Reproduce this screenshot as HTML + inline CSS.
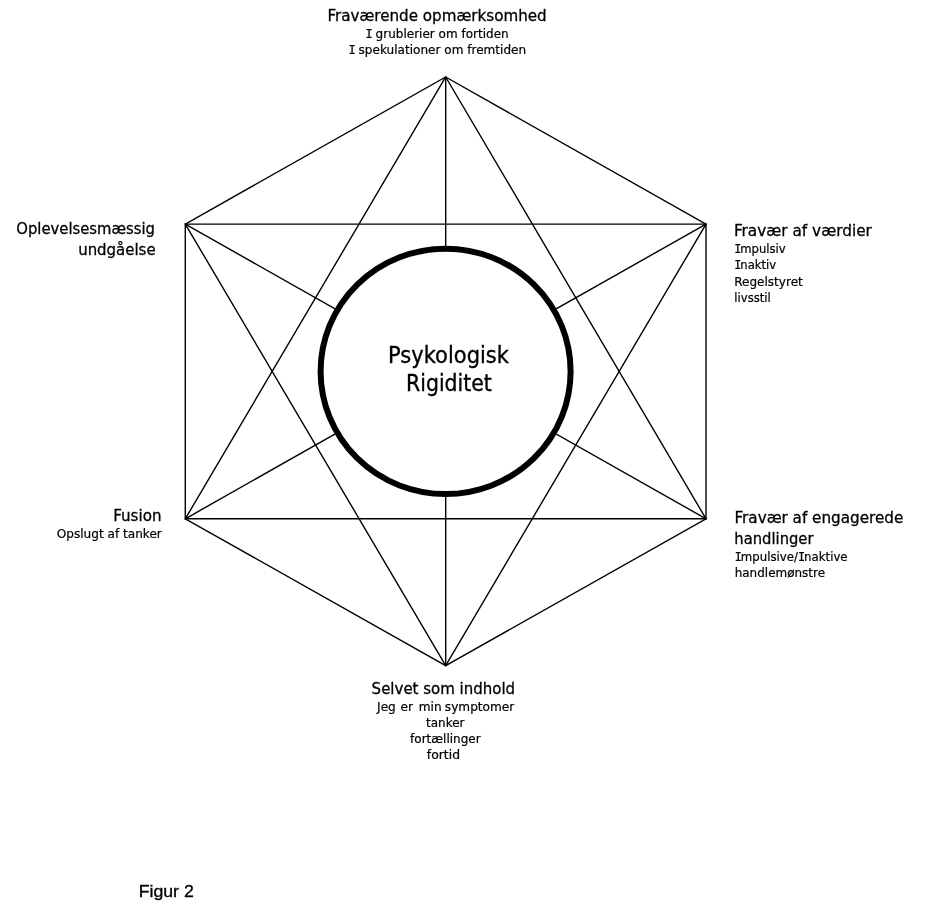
<!DOCTYPE html>
<html lang="da">
<head>
<meta charset="utf-8">
<title>Figur 2 – Psykologisk Rigiditet</title>
<style>
  html, body { margin: 0; padding: 0; background: #ffffff; }
  body { width: 942px; height: 903px; overflow: hidden; }
  svg { display: block; will-change: transform; }
  .ln { stroke: #000; stroke-width: 1.4; fill: none; stroke-linecap: butt; }
  .h  { font-family: "DejaVu Sans Condensed", "DejaVu Sans", "Liberation Sans", sans-serif; font-size: 16px; fill: #000; stroke: #000; stroke-width: 0.28px; }
  .s  { font-family: "DejaVu Sans", "Liberation Sans", sans-serif; font-size: 12.5px; fill: #000; stroke: #000; stroke-width: 0.22px; }
  .c  { font-family: "DejaVu Sans Condensed", "DejaVu Sans", "Liberation Sans", sans-serif; font-size: 22.5px; fill: #000; stroke: #000; stroke-width: 0.32px; }
  .i  { font-family: "DejaVu Sans Mono", "Liberation Mono", monospace; letter-spacing: -1px; }
  .f  { font-family: "Liberation Sans", sans-serif; font-size: 16px; fill: #000; stroke: #000; stroke-width: 0.3px; }
</style>
</head>
<body>
<svg width="942" height="903" viewBox="0 0 942 903">
  <rect x="0" y="0" width="942" height="903" fill="#ffffff"/>

  <!-- hexagon outline -->
  <polygon class="ln" points="445.7,77 706,224.1 706,518.8 445.7,665.6 185.3,518.8 185.3,224.1"/>
  <!-- star (short diagonals) -->
  <polygon class="ln" points="445.7,77 706,518.8 185.3,518.8"/>
  <polygon class="ln" points="445.7,665.6 185.3,224.1 706,224.1"/>
  <!-- long diagonals -->
  <line class="ln" x1="445.7" y1="77" x2="445.7" y2="665.6"/>
  <line class="ln" x1="185.3" y1="224.1" x2="706" y2="518.8"/>
  <line class="ln" x1="706" y1="224.1" x2="185.3" y2="518.8"/>

  <!-- centre circle -->
  <ellipse cx="445.6" cy="371.4" rx="125" ry="122.7" fill="#ffffff" stroke="#000" stroke-width="6"/>

  <!-- centre label -->
  <text class="c" x="388.12" y="363" textLength="120.87" lengthAdjust="spacingAndGlyphs">Psykologisk</text>
  <text class="c" x="406.00" y="391" textLength="85.89" lengthAdjust="spacingAndGlyphs">Rigiditet</text>

  <!-- top -->
  <text class="h" x="327.49" y="21" textLength="219.22" lengthAdjust="spacingAndGlyphs">Fraværende opmærksomhed</text>
  <text class="s" x="365.50" y="38" textLength="143.23" lengthAdjust="spacingAndGlyphs"><tspan class="i">I</tspan> grublerier om fortiden</text>
  <text class="s" x="348.46" y="54" textLength="177.67" lengthAdjust="spacingAndGlyphs"><tspan class="i">I</tspan> spekulationer om fremtiden</text>

  <!-- top-left -->
  <text class="h" x="16.27" y="234" textLength="138.74" lengthAdjust="spacingAndGlyphs">Oplevelsesmæssig</text>
  <text class="h" x="78.16" y="255" textLength="77.44" lengthAdjust="spacingAndGlyphs">undgåelse</text>

  <!-- bottom-left -->
  <text class="h" x="113.29" y="521" textLength="48.20" lengthAdjust="spacingAndGlyphs">Fusion</text>
  <text class="s" x="56.79" y="538" textLength="105.05" lengthAdjust="spacingAndGlyphs">Opslugt af tanker</text>

  <!-- top-right -->
  <text class="h" x="733.97" y="236" textLength="137.93" lengthAdjust="spacingAndGlyphs">Fravær af værdier</text>
  <text class="s" x="734.18" y="253" textLength="51.45" lengthAdjust="spacingAndGlyphs"><tspan class="i">I</tspan>mpulsiv</text>
  <text class="s" x="734.28" y="269" textLength="41.90" lengthAdjust="spacingAndGlyphs"><tspan class="i">I</tspan>naktiv</text>
  <text class="s" x="734.15" y="286" textLength="68.65" lengthAdjust="spacingAndGlyphs">Regelstyret</text>
  <text class="s" x="734.32" y="302" textLength="36.48" lengthAdjust="spacingAndGlyphs">livsstil</text>

  <!-- bottom-right -->
  <text class="h" x="734.60" y="523" textLength="168.65" lengthAdjust="spacingAndGlyphs">Fravær af engagerede</text>
  <text class="h" x="734.39" y="544" textLength="79.11" lengthAdjust="spacingAndGlyphs">handlinger</text>
  <text class="s" x="734.70" y="561" textLength="112.91" lengthAdjust="spacingAndGlyphs"><tspan class="i">I</tspan>mpulsive/<tspan class="i">I</tspan>naktive</text>
  <text class="s" x="734.70" y="577" textLength="90.38" lengthAdjust="spacingAndGlyphs">handlemønstre</text>

  <!-- bottom -->
  <text class="h" x="371.61" y="694" textLength="143.50" lengthAdjust="spacingAndGlyphs">Selvet som indhold</text>
  <text class="s" x="377.09" y="711" textLength="137.15" lengthAdjust="spacingAndGlyphs" >Jeg <tspan dx="0.9">er</tspan> <tspan dx="2">min</tspan> <tspan dx="-0.7">symptomer</tspan></text>
  <text class="s" x="426.09" y="727" textLength="38.42" lengthAdjust="spacingAndGlyphs">tanker</text>
  <text class="s" x="410.10" y="743" textLength="70.47" lengthAdjust="spacingAndGlyphs">fortællinger</text>
  <text class="s" x="426.81" y="759" textLength="33.24" lengthAdjust="spacingAndGlyphs">fortid</text>

  <!-- caption -->
  <text class="f" x="138.66" y="897" textLength="55.06" lengthAdjust="spacingAndGlyphs">Figur 2</text>
</svg>
</body>
</html>
